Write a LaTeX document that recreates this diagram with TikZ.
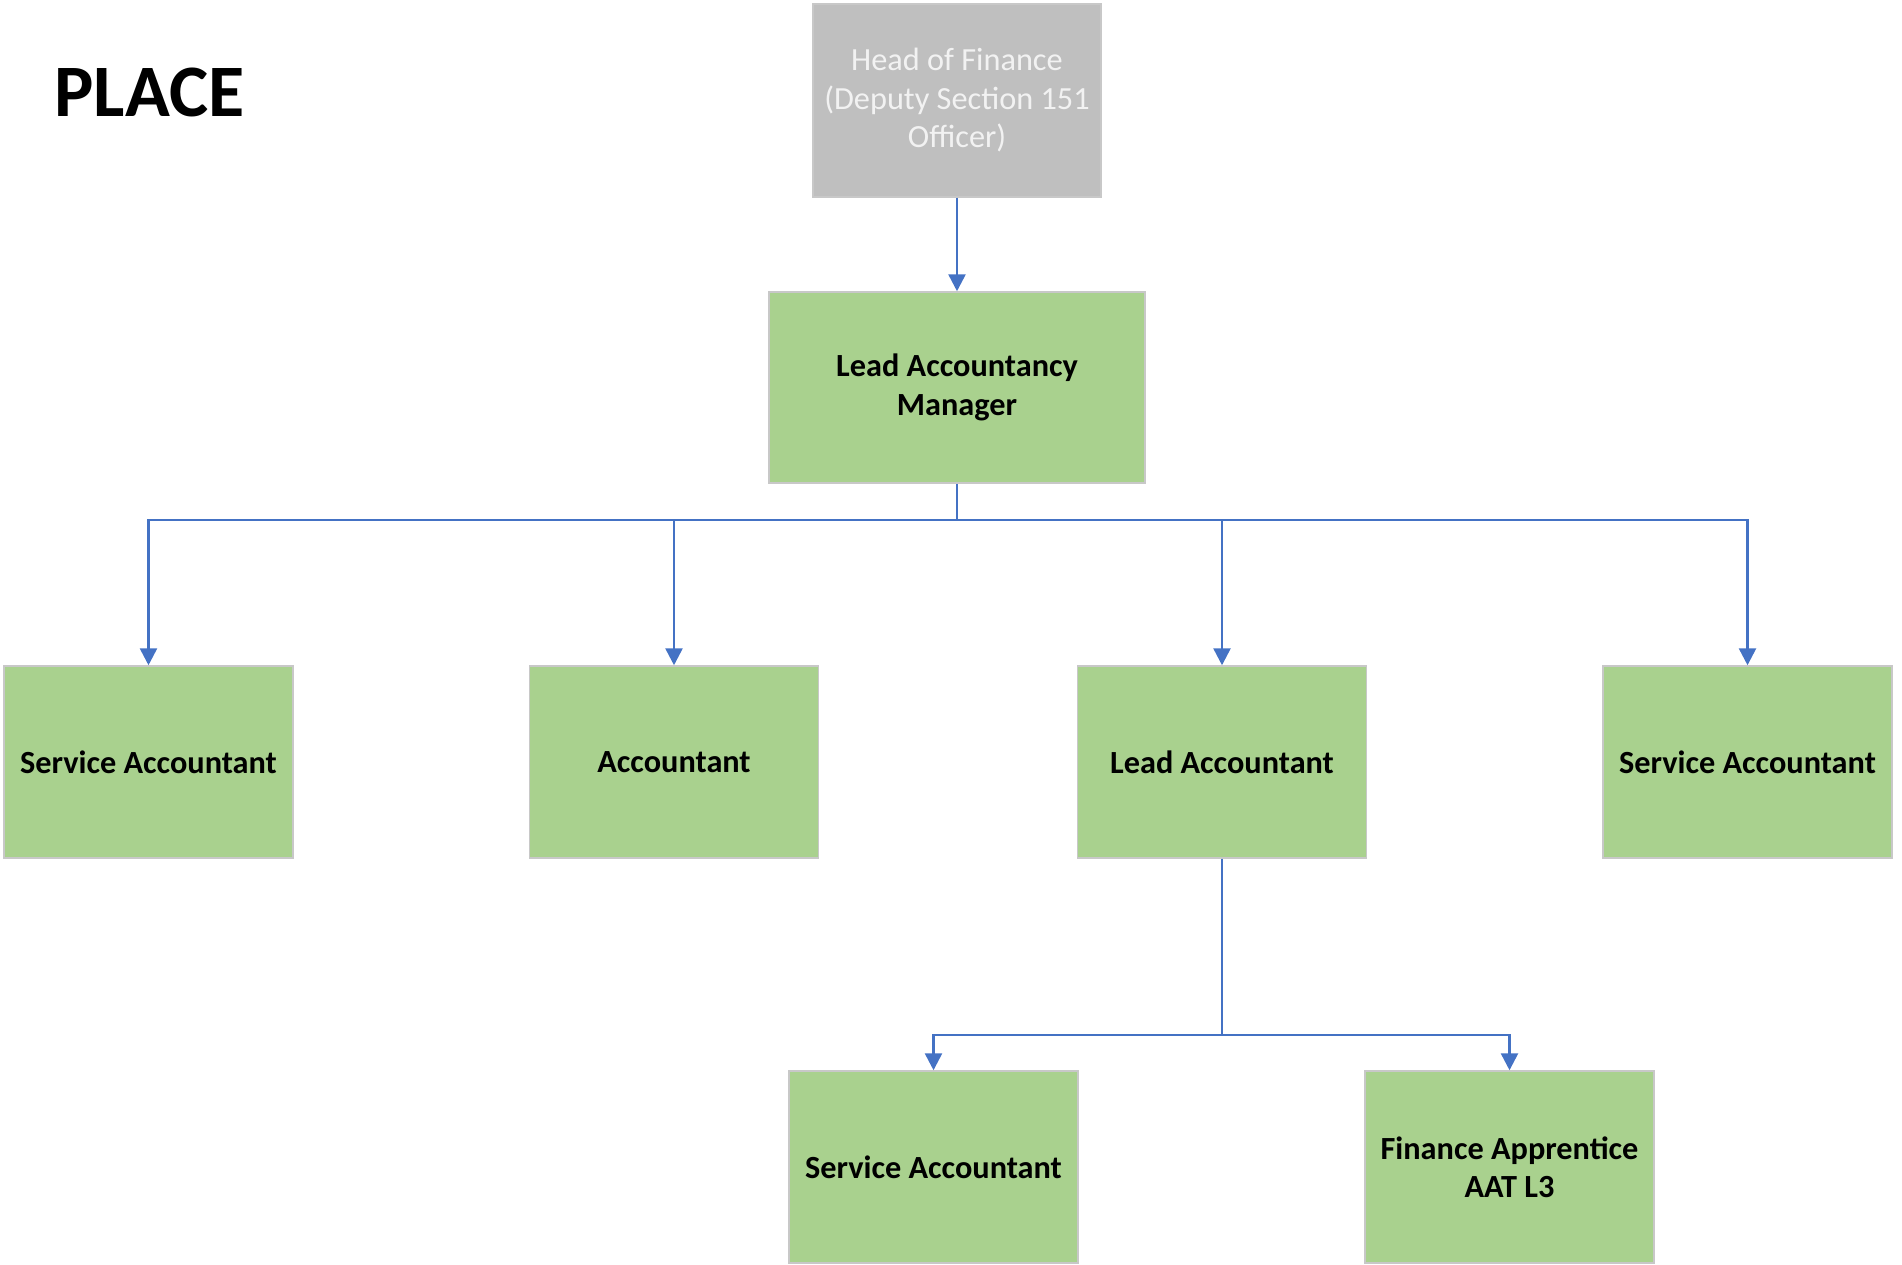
\documentclass[tikz,border=0pt]{standalone}
\usepackage{fontspec}
\setmainfont{Carlito}
\usetikzlibrary{arrows.meta}
\definecolor{boxgreen}{HTML}{A9D18E}
\definecolor{boxgrey}{HTML}{BFBFBF}
\definecolor{edgegrey}{HTML}{C8C8C8}
\definecolor{linkblue}{HTML}{4472C4}
\tikzset{
  post/.style={draw=edgegrey, line width=1.5pt, fill=boxgreen, rectangle,
    minimum width=289pt, minimum height=192pt, inner sep=0pt, align=center,
    font=\fontsize{32.3}{38.5}\selectfont\bfseries, text=black},
  headpost/.style={post, fill=boxgrey, draw=edgegrey, font=\fontsize{32.3}{38.5}\selectfont, text=white!95!black},
  conn/.style={draw=linkblue, line width=2.6pt},
  arr/.style={conn, -{Triangle[length=17pt,width=17pt]}}
}
\begin{document}
\begin{tikzpicture}[x=1pt,y=-1pt]
\useasboundingbox (0,0) rectangle (1902,1265);
\node[anchor=base west, font=\fontsize{74}{80}\selectfont\bfseries] (title) at (51,117) {PLACE};
\node[headpost, minimum width=288pt, minimum height=193pt] (head) at (957,100.5) {Head of Finance\\(Deputy Section 151\\Officer)};
\node[post, minimum width=376pt, minimum height=191pt] (lam) at (957,387.5) {Lead Accountancy\\Manager};
\node[post] (sa1) at (148.5,762) {Service Accountant};
\node[post] (acc) at (674,762) {Accountant};
\node[post] (la) at (1222,762) {Lead Accountant};
\node[post] (sa2) at (1747.5,762) {Service Accountant};
\node[post] (sa3) at (933.5,1167) {Service Accountant};
\node[post] (fa) at (1509.5,1167) {Finance Apprentice\\AAT L3};
\coordinate (bus) at (957,520);
\coordinate (bus2) at (1222,1035);
\draw[arr] (head.south) -- (lam.north);
\draw[conn] (lam.south) -- (bus);
\draw[arr] (bus) -| (sa1.north);
\draw[arr] (bus) -| (acc.north);
\draw[arr] (bus) -| (la.north);
\draw[arr] (bus) -| (sa2.north);
\draw[conn] (la.south) -- (bus2);
\draw[arr] (bus2) -| (sa3.north);
\draw[arr] (bus2) -| (fa.north);
\end{tikzpicture}
\end{document}
